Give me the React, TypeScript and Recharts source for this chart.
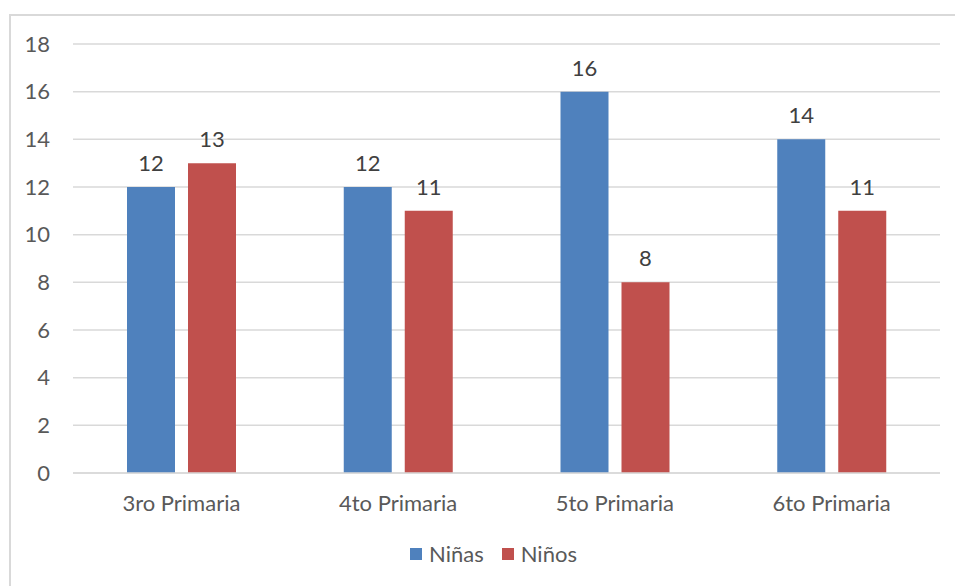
import { BarChart, Bar, XAxis, YAxis, CartesianGrid, Legend, LabelList } from 'recharts';

const categories = ['3ro Primaria', '4to Primaria', '5to Primaria', '6to Primaria'];
const ninas = [12, 12, 16, 14];
const ninos = [13, 11, 8, 11];
const yTicks = [0, 2, 4, 6, 8, 10, 12, 14, 16, 18];

const data = categories.map((c, i) => ({ name: c, ninas: ninas[i], ninos: ninos[i] }));

const FONT = 'Lato, "Open Sans", sans-serif';
const TEXT = '#595959';
const FS = 22;

function renderLegend(props: any) {
  const { payload } = props;
  return (
    <div style={{ display: 'flex', justifyContent: 'center', gap: 18, fontFamily: FONT, fontSize: FS, color: TEXT, lineHeight: '26px', paddingLeft: 32 }}>
      {payload.map((p: any) => (
        <div key={p.value} style={{ display: 'flex', alignItems: 'center' }}>
          <span style={{ width: 12, height: 12, background: p.color, display: 'inline-block', marginRight: 7 }} />
          <span>{p.value}</span>
        </div>
      ))}
    </div>
  );
}

export default function App() {
  return (
    <div style={{ position: 'absolute', left: 0, top: 0, width: 955, height: 586, background: '#fff', overflow: 'hidden' }}>
      <div style={{ position: 'absolute', left: 9, top: 14, width: 960, height: 600, border: '2px solid #D9D9D9', boxSizing: 'border-box' }} />
      <div style={{ position: 'absolute', left: 0, top: 0 }}>
        <BarChart width={955} height={586} data={data} margin={{ top: 44, right: 15, bottom: 57, left: 0 }}
          barCategoryGap={54} barGap={13}>
          <CartesianGrid vertical={false} stroke="#D9D9D9" strokeWidth={1.5} />
          <XAxis dataKey="name" axisLine={{ stroke: '#D9D9D9', strokeWidth: 1.5 }} tickLine={false}
            tick={{ fontSize: FS, fill: TEXT, fontFamily: FONT }} tickMargin={16} />
          <YAxis width={73} domain={[0, 18]} ticks={yTicks} axisLine={false} tickLine={false}
            tick={{ fontSize: FS, fill: TEXT, fontFamily: FONT }} tickMargin={17} interval={0} />
          <Legend verticalAlign="bottom" content={renderLegend} wrapperStyle={{ top: 541, left: 0, width: 955 }} />
          <Bar dataKey="ninas" name="Niñas" fill="#4F81BD" barSize={48} isAnimationActive={false}>
            <LabelList dataKey="ninas" position="top" offset={16} style={{ fontSize: FS, fill: '#404040', fontFamily: FONT }} />
          </Bar>
          <Bar dataKey="ninos" name="Niños" fill="#C0504D" barSize={48} isAnimationActive={false}>
            <LabelList dataKey="ninos" position="top" offset={16} style={{ fontSize: FS, fill: '#404040', fontFamily: FONT }} />
          </Bar>
        </BarChart>
      </div>
    </div>
  );
}
